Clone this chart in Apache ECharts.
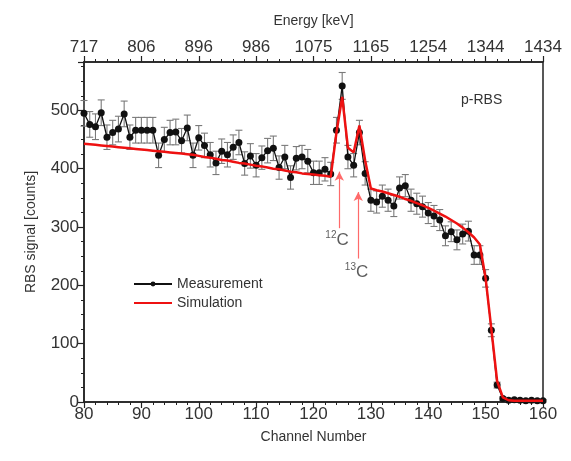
<!DOCTYPE html>
<html>
<head>
<meta charset="utf-8">
<script src="https://cdn.jsdelivr.net/npm/echarts@6/dist/echarts.min.js"></script>
<style>
  html, body { margin: 0; padding: 0; background: #fff; }
  #chart { width: 571px; height: 461px; }
</style>
</head>
<body>
<div id="chart"></div>
<script>
// channel numbers of the measured spectrum
var channels = [80, 81, 82, 83, 84, 85, 86, 87, 88, 89, 90, 91, 92, 93, 94, 95, 96, 97, 98, 99,
  100, 101, 102, 103, 104, 105, 106, 107, 108, 109, 110, 111, 112, 113, 114, 115, 116, 117, 118, 119,
  120, 121, 122, 123, 124, 125, 126, 127, 128, 129, 130, 131, 132, 133, 134, 135, 136, 137, 138, 139,
  140, 141, 142, 143, 144, 145, 146, 147, 148, 149, 150, 151, 152, 153, 154, 155, 156, 157, 158, 159, 160];

// measured counts
var measured = [495, 476, 472, 496, 454, 462, 468, 494, 454, 466, 466, 466, 466, 423, 450, 462, 463, 448, 470, 423,
  453, 440, 424, 410, 430, 424, 437, 445, 409, 422, 406, 419, 431, 435, 402, 420, 385, 418, 420, 413,
  393, 393, 399, 391, 466, 542, 420, 406, 462, 392, 346, 343, 353, 346, 336, 367, 371, 346, 340, 335,
  324, 319, 312, 285, 292, 278, 288, 293, 252, 252, 212, 123, 29, 6, 3, 4, 3, 2, 3, 2, 2];

// error bar half lengths
var errors = [22, 22, 22, 22, 21, 21, 22, 22, 21, 22, 22, 22, 22, 21, 21, 21, 22, 21, 22, 21,
  21, 21, 21, 20, 21, 21, 21, 21, 20, 21, 20, 20, 21, 21, 20, 20, 20, 20, 20, 20,
  20, 20, 20, 20, 22, 23, 20, 20, 21, 20, 19, 19, 19, 19, 18, 19, 19, 19, 18, 18,
  18, 18, 18, 17, 17, 17, 17, 17, 16, 16, 15, 11, 5, 3, 2, 2, 2, 2, 2, 2, 2];

// simulated spectrum
var simulated = [443, 442, 441, 440, 439, 438, 437, 436, 435, 434, 433, 432, 431, 430, 429, 428, 427, 426, 425, 424,
  422, 420, 419, 417, 415, 414, 412, 410, 409, 407, 405, 404, 402, 400, 399, 397, 395, 394, 392, 391,
  390, 389, 388, 386, 462, 523, 436, 428, 474, 414, 366, 363, 361, 358, 355, 352, 348, 345, 341, 337,
  333, 328, 323, 318, 312, 306, 299, 291, 282, 270, 212, 125, 36, 8, 3, 2, 2, 2, 2, 2, 2];

var xTicks = [80, 90, 100, 110, 120, 130, 140, 150, 160];
var energyLabels = ['717', '806', '896', '986', '1075', '1165', '1254', '1344', '1434'];

// arrows for the carbon peaks: [channel, from, to]
var arrows = [[124.5, 298, 395], [127.8, 246, 360]];
var peakLabels = [[124.1, 277, '12'], [127.5, 222, '13']];

var font = 'Liberation Sans, Arial, sans-serif';
var textColor = '#333';

var measData = [], simData = [], errData = [];
for (var i = 0; i < channels.length; i++) {
  measData.push([channels[i], measured[i]]);
  simData.push([channels[i], simulated[i]]);
  errData.push([channels[i], measured[i], errors[i]]);
}

var chart = echarts.init(document.getElementById('chart'), null, { renderer: 'canvas' });

var option = {
  animation: false,
  backgroundColor: '#fff',
  textStyle: { fontFamily: font },
  title: {
    text: 'p-RBS',
    left: 456,
    top: 88,
    textStyle: { fontSize: 14, fontWeight: 'normal', color: textColor, fontFamily: font }
  },
  legend: {
    data: ['Measurement', { name: 'Simulation', itemStyle: { opacity: 0 } }],
    orient: 'vertical',
    left: 128,
    top: 272,
    itemWidth: 38,
    itemHeight: 6,
    itemGap: 5,
    textStyle: { fontSize: 14, color: textColor, fontFamily: font }
  },
  grid: {
    left: 84, right: 28, top: 62, bottom: 59,
    show: true, borderColor: '#222', borderWidth: 1.5
  },
  xAxis: [{
    type: 'value',
    position: 'bottom',
    min: 80, max: 160, interval: 10,
    name: 'Channel Number',
    nameLocation: 'middle',
    nameGap: 28,
    nameTextStyle: { fontSize: 14, color: textColor },
    axisLine: { lineStyle: { color: '#222', width: 1.5 } },
    axisTick: { length: 6, lineStyle: { color: '#222', width: 1.2 } },
    minorTick: { show: true, splitNumber: 5, length: 3, lineStyle: { color: '#222', width: 1 } },
    splitLine: { show: false },
    axisLabel: { fontSize: 17, color: textColor, margin: 4 }
  }, {
    type: 'value',
    position: 'top',
    min: 80, max: 160, interval: 10,
    name: 'Energy [keV]',
    nameLocation: 'middle',
    nameGap: 34,
    nameTextStyle: { fontSize: 14, color: textColor },
    axisLine: { lineStyle: { color: '#222', width: 1.5 } },
    axisTick: { length: 6, lineStyle: { color: '#222', width: 1.2 } },
    minorTick: { show: true, splitNumber: 5, length: 3, lineStyle: { color: '#222', width: 1 } },
    splitLine: { show: false },
    axisLabel: {
      fontSize: 17, color: textColor, margin: 6,
      formatter: function (v) {
        var k = xTicks.indexOf(v);
        return k >= 0 ? energyLabels[k] : '';
      }
    }
  }],
  yAxis: {
    type: 'value',
    min: 0, max: 583, interval: 100,
    name: 'RBS signal [counts]',
    nameLocation: 'middle',
    nameGap: 46,
    nameTextStyle: { fontSize: 14, color: textColor },
    axisLine: { show: true, lineStyle: { color: '#222', width: 1.5 } },
    axisTick: { show: true, length: 6, lineStyle: { color: '#222', width: 1.2 } },
    minorTick: { show: true, splitNumber: 4, length: 3, lineStyle: { color: '#222', width: 1 } },
    splitLine: { show: false },
    axisLabel: { fontSize: 17, color: textColor, margin: 5, showMaxLabel: false }
  },
  series: [{
    name: 'errors',
    type: 'custom',
    z: 2,
    silent: true,
    data: errData,
    renderItem: function (params, api) {
      var x = api.value(0), y = api.value(1), e = api.value(2);
      var top = api.coord([x, y + e]);
      var bot = api.coord([x, y - e]);
      var w = 3.5;
      var st = { stroke: '#7a7a7a', lineWidth: 1.1 };
      return {
        type: 'group',
        children: [
          { type: 'line', shape: { x1: top[0], y1: top[1], x2: bot[0], y2: bot[1] }, style: st },
          { type: 'line', shape: { x1: top[0] - w, y1: top[1], x2: top[0] + w, y2: top[1] }, style: st },
          { type: 'line', shape: { x1: bot[0] - w, y1: bot[1], x2: bot[0] + w, y2: bot[1] }, style: st }
        ]
      };
    }
  }, {
    name: 'Measurement',
    type: 'line',
    z: 3,
    data: measData,
    symbol: 'circle',
    symbolSize: 7,
    showAllSymbol: true,
    itemStyle: { color: '#111' },
    lineStyle: { color: '#111', width: 1.3 }
  }, {
    name: 'Simulation',
    type: 'line',
    z: 4,
    data: simData,
    symbol: 'none',
    itemStyle: { color: '#ee1111' },
    lineStyle: { color: '#ee1111', width: 2.5 },
    markLine: {
      silent: true,
      symbol: ['none', 'arrow'],
      symbolSize: [7, 9],
      label: { show: false },
      lineStyle: { color: '#ff6a6a', width: 1.2, type: 'solid' },
      data: arrows.map(function (a) {
        return [{ coord: [a[0], a[1]] }, { coord: [a[0], a[2]] }];
      })
    }
  }, {
    name: 'peaks',
    type: 'scatter',
    z: 5,
    silent: true,
    symbolSize: 0,
    data: peakLabels.map(function (p) { return { value: [p[0], p[1]], mass: p[2] }; }),
    label: {
      show: true,
      position: 'inside',
      formatter: function (p) { return '{s|' + p.data.mass + '}{c|C}'; },
      rich: {
        s: { fontSize: 10, color: textColor, verticalAlign: 'top', lineHeight: 20 },
        c: { fontSize: 17, color: textColor, lineHeight: 20 }
      }
    }
  }]
};

chart.setOption(option);
</script>
</body>
</html>
